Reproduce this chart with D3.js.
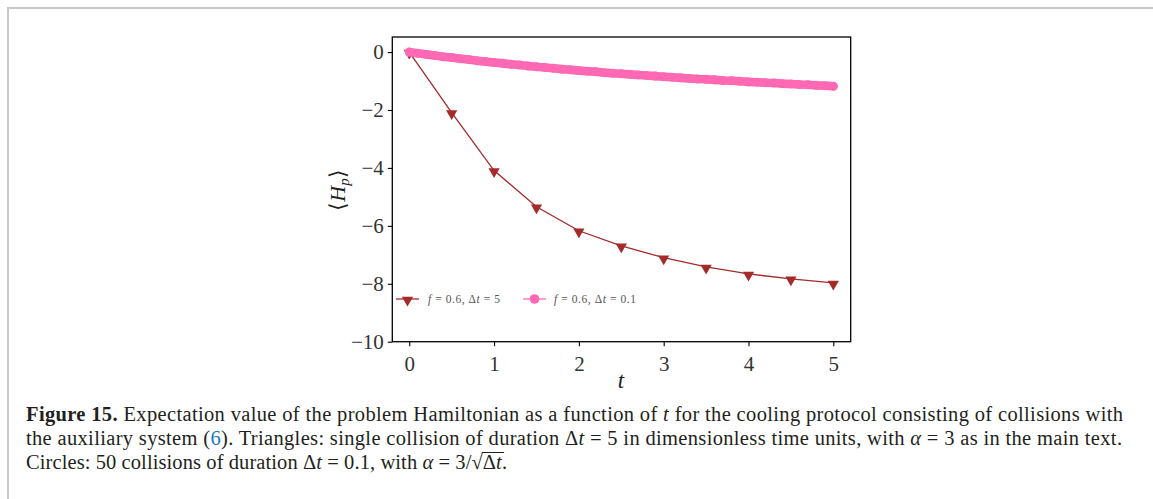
<!DOCTYPE html>
<html>
<head>
<meta charset="utf-8">
<script src="https://cdn.jsdelivr.net/npm/d3@7"></script>
<style>
  body { margin: 0; background: #fff; }
  text { font-family: "Liberation Serif", serif; }
</style>
</head>
<body>
<div id="display"></div>
<script>
// single collision, dt = 5 (triangles)
const tTri = [0, 0.5, 1, 1.5, 2, 2.5, 3, 3.5, 4, 4.5, 5];
const hTri = [0, -2.09, -4.09, -5.34, -6.17, -6.69, -7.1, -7.42, -7.66, -7.83, -7.97];

// 50 collisions, dt = 0.1 (circles)
const tCirc = [0, 0.1, 0.2, 0.3, 0.4, 0.5, 0.6, 0.7, 0.8, 0.9,
  1, 1.1, 1.2, 1.3, 1.4, 1.5, 1.6, 1.7, 1.8, 1.9,
  2, 2.1, 2.2, 2.3, 2.4, 2.5, 2.6, 2.7, 2.8, 2.9,
  3, 3.1, 3.2, 3.3, 3.4, 3.5, 3.6, 3.7, 3.8, 3.9,
  4, 4.1, 4.2, 4.3, 4.4, 4.5, 4.6, 4.7, 4.8, 4.9, 5];
const hCirc = [0, -0.04, -0.08, -0.12, -0.16, -0.19, -0.23, -0.26, -0.30, -0.33,
  -0.36, -0.39, -0.42, -0.45, -0.48, -0.51, -0.53, -0.56, -0.59, -0.61,
  -0.64, -0.66, -0.68, -0.71, -0.73, -0.75, -0.77, -0.79, -0.81, -0.83,
  -0.85, -0.87, -0.89, -0.91, -0.93, -0.94, -0.96, -0.98, -0.99, -1.01,
  -1.03, -1.04, -1.06, -1.07, -1.09, -1.10, -1.12, -1.13, -1.15, -1.16, -1.18];

const xTicks = [0, 1, 2, 3, 4, 5];
const yTicks = [0, -2, -4, -6, -8, -10];

const width = 1153, height = 499;
const svg = d3.select('#display').append('svg')
    .attr('width', width)
    .attr('height', height);

// page frame
svg.append('path')
    .attr('d', 'M8,499 L8,8 L1153,8')
    .attr('fill', 'none')
    .attr('stroke', '#c8c8c8')
    .attr('stroke-width', 2);

const plot = { left: 392.3, right: 850.7, top: 37, bottom: 341.7 };

const x = d3.scaleLinear().domain([-0.2, 5.205]).range([plot.left, plot.right]);
const y = d3.scaleLinear().domain([-10, 0.52]).range([plot.bottom, plot.top]);

const xAxis = svg.append('g')
    .attr('transform', `translate(0,${plot.bottom})`)
    .call(d3.axisBottom(x).tickValues(xTicks).tickSize(4.5).tickPadding(5).tickFormat(d3.format('d')));
const yAxis = svg.append('g')
    .attr('transform', `translate(${plot.left},0)`)
    .call(d3.axisLeft(y).tickValues(yTicks).tickSize(4.5).tickPadding(4).tickFormat(d3.format('d')));

[xAxis, yAxis].forEach(function (ax) {
    ax.select('.domain').remove();
    ax.selectAll('line').attr('stroke', '#000').attr('stroke-width', 1.1);
    ax.selectAll('text')
        .attr('fill', '#333')
        .style('font-family', '"Liberation Serif", serif')
        .style('font-size', '21px');
});
xAxis.selectAll('text').attr('dy', '0.95em');
yAxis.selectAll('text').attr('dy', '0.33em');

// clip for data
svg.append('clipPath').attr('id', 'clip')
    .append('rect')
    .attr('x', plot.left).attr('y', plot.top)
    .attr('width', plot.right - plot.left).attr('height', plot.bottom - plot.top);

const data = svg.append('g').attr('clip-path', 'url(#clip)');

const line = d3.line().x(d => x(d[0])).y(d => y(d[1]));
const triPts = tTri.map((t, i) => [t, hTri[i]]);
const circPts = tCirc.map((t, i) => [t, hCirc[i]]);

const brown = '#a52a2a';
const pink = '#ff69b4';

data.append('path')
    .attr('d', line(triPts))
    .attr('fill', 'none')
    .attr('stroke', brown)
    .attr('stroke-width', 1.3);

const triDown = d3.symbol().type(d3.symbolTriangle).size(55);
data.selectAll('.tri')
    .data(triPts)
    .enter()
    .append('path')
    .attr('class', 'tri')
    .attr('d', triDown)
    .attr('transform', d => `translate(${x(d[0])},${y(d[1]) + 1}) rotate(180)`)
    .attr('fill', brown);

// dense circle markers merge into a band
data.append('path')
    .attr('d', line(circPts))
    .attr('fill', 'none')
    .attr('stroke', pink)
    .attr('stroke-width', 8.6)
    .attr('stroke-linecap', 'round');

data.selectAll('.circ')
    .data(circPts)
    .enter()
    .append('circle')
    .attr('class', 'circ')
    .attr('cx', d => x(d[0]))
    .attr('cy', d => y(d[1]))
    .attr('r', 4.5)
    .attr('fill', pink);

// frame of the axes
svg.append('rect')
    .attr('x', plot.left).attr('y', plot.top)
    .attr('width', plot.right - plot.left).attr('height', plot.bottom - plot.top)
    .attr('fill', 'none')
    .attr('stroke', '#000')
    .attr('stroke-width', 1.3);

// legend
const legend = svg.append('g').attr('transform', 'translate(0,299)');
legend.append('line').attr('x1', 396).attr('x2', 419).attr('y1', 0).attr('y2', 0)
    .attr('stroke', brown).attr('stroke-width', 1.3);
legend.append('path').attr('d', triDown)
    .attr('transform', 'translate(407.5,1) rotate(180)').attr('fill', brown);
legend.append('line').attr('x1', 523).attr('x2', 546).attr('y1', 0).attr('y2', 0)
    .attr('stroke', pink).attr('stroke-width', 1.3);
legend.append('circle').attr('cx', 534.5).attr('cy', 0).attr('r', 4.8).attr('fill', pink);

function legendLabel(x0, dtVal, len) {
    const t = legend.append('text')
        .attr('x', x0).attr('y', 4)
        .attr('fill', '#555')
        .attr('textLength', len).attr('lengthAdjust', 'spacing')
        .style('font-size', '11.5px');
    t.append('tspan').style('font-style', 'italic').text('f');
    t.append('tspan').text(' = 0.6, \u0394');
    t.append('tspan').style('font-style', 'italic').text('t');
    t.append('tspan').text(' = ' + dtVal);
}
legendLabel(428, '5', 72);
legendLabel(554, '0.1', 82);

// axis labels
const yl = svg.append('text')
    .attr('transform', 'translate(345,190) rotate(-90)')
    .attr('text-anchor', 'middle')
    .attr('fill', '#222')
    .style('font-size', '22px');
yl.append('tspan').text('\u27E8');
yl.append('tspan').style('font-style', 'italic').text('H');
yl.append('tspan').style('font-style', 'italic').style('font-size', '15px').attr('dy', 4).text('p');
yl.append('tspan').attr('dy', -4).text('\u27E9');

svg.append('text')
    .attr('x', 621).attr('y', 388)
    .attr('text-anchor', 'middle')
    .attr('fill', '#222')
    .style('font-size', '23px')
    .style('font-style', 'italic')
    .text('t');

// caption
const cap = svg.append('g').style('font-size', '20.5px').attr('fill', '#231f20');
const overlined = [];
function capLine(yPos, parts, len) {
    const t = cap.append('text').attr('x', 26).attr('y', yPos);
    if (len) t.attr('textLength', len).attr('lengthAdjust', 'spacing');
    parts.forEach(function (p) {
        const s = t.append('tspan').text(p[0]);
        if (p[1] === 'b') s.style('font-weight', 'bold');
        if (p[1] === 'i') s.style('font-style', 'italic');
        if (p[1] === 'blue') s.attr('fill', '#1c7cbf');
        if (p[1] === 'ov') overlined.push(s.node());
    });
}
capLine(421, [
    ['Figure 15.', 'b'],
    [' Expectation value of the problem Hamiltonian as a function of '],
    ['t', 'i'],
    [' for the cooling protocol consisting of collisions with']
], 1097);
capLine(445, [
    ['the auxiliary system ('],
    ['6', 'blue'],
    ['). Triangles: single collision of duration \u0394'],
    ['t', 'i'],
    [' = 5 in dimensionless time units, with '],
    ['\u03B1', 'i'],
    [' = 3 as in the main text.']
], 1096);
capLine(469, [
    ['Circles: 50 collisions of duration \u0394'],
    ['t', 'i'],
    [' = 0.1, with '],
    ['\u03B1', 'i'],
    [' = 3/\u221A'],
    ['\u0394', 'ov'],
    ['t', 'ov'],
    ['.']
], 481);
cap.selectAll('tspan').filter(function () { return overlined.indexOf(this) === 1; })
    .style('font-style', 'italic');

// radical bar over the overlined part
const b0 = overlined[0].getBBox(), b1 = overlined[1].getBBox();
cap.append('line')
    .attr('x1', b0.x - 1).attr('x2', b1.x + b1.width + 1)
    .attr('y1', b0.y + 1.5).attr('y2', b0.y + 1.5)
    .attr('stroke', '#231f20').attr('stroke-width', 1);
</script>
</body>
</html>
